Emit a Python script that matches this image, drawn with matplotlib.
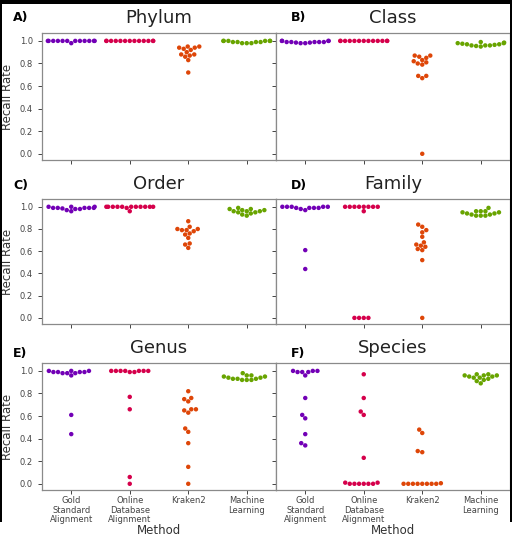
import matplotlib
matplotlib.use('Agg')
import matplotlib.pyplot as plt
from matplotlib.patches import Rectangle
import pandas as pd
import seaborn as sns

# recall rates per taxonomic level, 13 samples per method
methods = ['Gold\nStandard\nAlignment', 'Online\nDatabase\nAlignment', 'Kraken2', 'Machine\nLearning']
colors = ['#7200b6', '#d5004b', '#de4608', '#68a400']
panel_letters = ['A)', 'B)', 'C)', 'D)', 'E)', 'F)']
levels = ['Phylum', 'Class', 'Order', 'Family', 'Genus', 'Species']

phylum_gold = [1.0, 1.0, 1.0, 1.0, 1.0, 1.0, 0.98, 1.0, 1.0, 1.0, 1.0, 1.0, 1.0]
phylum_online = [1.0, 1.0, 1.0, 1.0, 1.0, 1.0, 1.0, 1.0, 1.0, 1.0, 1.0, 1.0, 1.0]
phylum_kraken = [0.95, 0.95, 0.94, 0.94, 0.93, 0.92, 0.90, 0.88, 0.88, 0.87, 0.86, 0.83, 0.72]
phylum_ml = [1.0, 1.0, 1.0, 1.0, 1.0, 0.99, 0.99, 0.99, 0.99, 0.98, 0.98, 0.98, 1.0]

class_gold = [1.0, 1.0, 0.99, 0.99, 0.985, 0.98, 0.98, 0.985, 0.99, 0.99, 0.99, 1.0, 1.0]
class_online = [1.0, 1.0, 1.0, 1.0, 1.0, 1.0, 1.0, 1.0, 1.0, 1.0, 1.0, 1.0, 1.0]
class_kraken = [0.87, 0.87, 0.86, 0.85, 0.83, 0.82, 0.81, 0.80, 0.79, 0.69, 0.69, 0.67, 0.0]
class_ml = [0.99, 0.985, 0.98, 0.98, 0.975, 0.97, 0.97, 0.965, 0.96, 0.96, 0.96, 0.955, 0.95]

order_gold = [1.0, 1.0, 0.99, 0.99, 0.99, 0.98, 0.98, 0.97, 0.96, 0.99, 1.0, 0.99, 0.985]
order_online = [1.0, 1.0, 1.0, 1.0, 1.0, 1.0, 0.96, 0.99, 1.0, 1.0, 1.0, 1.0, 1.0]
order_kraken = [0.87, 0.82, 0.80, 0.80, 0.79, 0.79, 0.78, 0.76, 0.75, 0.72, 0.67, 0.66, 0.63]
order_ml = [0.99, 0.98, 0.98, 0.97, 0.97, 0.96, 0.96, 0.96, 0.95, 0.95, 0.94, 0.93, 0.92]

family_gold = [1.0, 1.0, 0.99, 0.98, 1.0, 0.97, 0.99, 0.99, 0.99, 1.0, 1.0, 0.61, 0.44]
family_online = [1.0, 1.0, 1.0, 1.0, 0.96, 1.0, 1.0, 1.0, 1.0, 0.0, 0.0, 0.0, 0.0]
family_kraken = [0.84, 0.82, 0.79, 0.77, 0.73, 0.68, 0.66, 0.65, 0.64, 0.62, 0.61, 0.52, 0.0]
family_ml = [0.99, 0.96, 0.96, 0.96, 0.95, 0.95, 0.94, 0.94, 0.93, 0.93, 0.92, 0.92, 0.92]

genus_gold = [1.0, 0.99, 0.99, 0.98, 1.0, 0.96, 0.98, 0.98, 0.99, 0.99, 1.0, 0.61, 0.44]
genus_online = [1.0, 1.0, 1.0, 0.99, 0.99, 1.0, 1.0, 1.0, 1.0, 0.77, 0.66, 0.06, 0.0]
genus_kraken = [0.82, 0.76, 0.75, 0.73, 0.66, 0.66, 0.65, 0.63, 0.49, 0.46, 0.36, 0.15, 0.0]
genus_ml = [0.98, 0.96, 0.96, 0.95, 0.95, 0.94, 0.94, 0.93, 0.93, 0.93, 0.92, 0.92, 0.92]

species_gold = [1.0, 1.0, 0.99, 0.96, 0.99, 0.99, 1.0, 0.76, 0.61, 0.58, 0.44, 0.36, 0.34]
species_online = [0.97, 0.76, 0.64, 0.61, 0.23, 0.0, 0.0, 0.0, 0.0, 0.0, 0.0, 0.01, 0.01]
species_kraken = [0.48, 0.45, 0.29, 0.28, 0.0, 0.0, 0.0, 0.0, 0.0, 0.0, 0.0, 0.0, 0.005]
species_ml = [0.97, 0.97, 0.96, 0.96, 0.96, 0.95, 0.95, 0.94, 0.94, 0.93, 0.92, 0.91, 0.89]

level_data = [
	[phylum_gold, phylum_online, phylum_kraken, phylum_ml],
	[class_gold, class_online, class_kraken, class_ml],
	[order_gold, order_online, order_kraken, order_ml],
	[family_gold, family_online, family_kraken, family_ml],
	[genus_gold, genus_online, genus_kraken, genus_ml],
	[species_gold, species_online, species_kraken, species_ml],
]

W, H = 512.0, 538.0
fig = plt.figure(figsize=(W / 100, H / 100), dpi=100)
fig.patch.set_facecolor('white')

# axes boxes in pixels: (left, top, right, bottom)
col_x = [(42, 276), (276, 510)]
row_y = [(33, 160), (199, 324), (363, 490)]
letter_x = [13, 291]
letter_y = [17, 186, 353]

for k in range(6):
	r, c = k // 2, k % 2
	x0, x1 = col_x[c]
	y0, y1 = row_y[r]
	ax = fig.add_axes([x0 / W, 1 - y1 / H, (x1 - x0) / W, (y1 - y0) / H])

	rows = []
	for m, vals in zip(methods, level_data[k]):
		for v in vals:
			rows.append((m, v))
	df = pd.DataFrame(rows, columns=['Method', 'Recall'])

	sns.swarmplot(data=df, x='Method', y='Recall', hue='Method', palette=colors,
		order=methods, size=3.2, ax=ax, legend=False, warn_thresh=1.0)

	ax.set_xlim(-0.5, 3.5)
	ax.set_ylim(-0.055, 1.07)
	ax.set_yticks([0.0, 0.2, 0.4, 0.6, 0.8, 1.0])
	ax.tick_params(axis='both', labelsize=6, colors='#444444', length=3, width=0.7)
	ax.tick_params(axis='x', pad=1.5)
	for s in ax.spines.values():
		s.set_color('#8a8a8a')
		s.set_linewidth(0.9)

	ax.set_title(levels[k], fontsize=13, pad=7, color='#222222')
	fig.text(letter_x[c] / W, 1 - letter_y[r] / H, panel_letters[k], fontsize=9,
		fontweight='bold', va='center', ha='left')

	if c == 0:
		ax.set_ylabel('Recall Rate', fontsize=8.5, color='#333333', labelpad=4)
	else:
		ax.set_ylabel('')
		ax.set_yticklabels([])
	if r == 2:
		ax.set_xticks(range(4))
		ax.set_xticklabels(methods, fontsize=6, linespacing=1.05)
		ax.set_xlabel('Method', fontsize=8.5, color='#333333', labelpad=0)
	else:
		ax.set_xlabel('')
		ax.set_xticklabels([])

# dark frame edges of the screenshot
fig.patches.append(Rectangle((0, 1 - 4 / H), 1, 4 / H, transform=fig.transFigure,
	facecolor='black', edgecolor='none'))
fig.patches.append(Rectangle((0, 16 / H), 2 / W, 1, transform=fig.transFigure,
	facecolor='black', edgecolor='none'))
fig.patches.append(Rectangle((1 - 2 / W, 16 / H), 2 / W, 1, transform=fig.transFigure,
	facecolor='black', edgecolor='none'))

fig.savefig('out.png', dpi=100)
